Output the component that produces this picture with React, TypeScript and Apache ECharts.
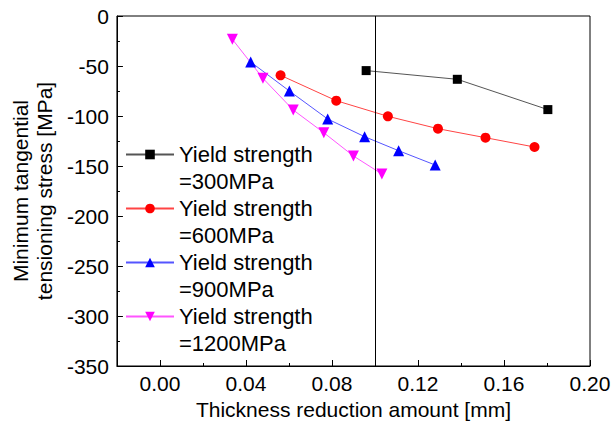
import React, { useEffect, useRef } from "react";
import * as echarts from "echarts";

const seriesNames = [
  "Yield strength\n=300MPa",
  "Yield strength\n=600MPa",
  "Yield strength\n=900MPa",
  "Yield strength\n=1200MPa",
];
const x300 = [0.0959, 0.1383, 0.1804];
const y300 = [-54.6, -63.3, -93.6];
const x600 = [0.0561, 0.082, 0.106, 0.1293, 0.1514, 0.1742];
const y600 = [-59.3, -84.7, -100.3, -112.7, -121.7, -131];
const x900 = [0.0422, 0.0602, 0.078, 0.0952, 0.111, 0.128];
const y900 = [-46, -75, -103, -120.7, -134.7, -149];
const x1200 = [0.0337, 0.0479, 0.062, 0.0762, 0.09, 0.1032];
const y1200 = [-23.3, -62.3, -94, -116.7, -140, -158];
const referenceX = [0.101];
const xMajorTicks = [0, 0.04, 0.08, 0.12, 0.16, 0.2];
const xMinorTicks = [0.02, 0.06, 0.1, 0.14, 0.18];

const FONT = "'Liberation Sans', Arial, sans-serif";

function pairs(xs: number[], ys: number[]) {
  return xs.map((x, i) => [x, ys[i]]);
}

export default function App() {
  const ref = useRef<HTMLDivElement>(null);
  useEffect(() => {
    if (!ref.current) return;
    const chart = echarts.init(ref.current, null, { renderer: "svg" });
    const symbolColors = ["#000000", "#ff0000", "#0000ff", "#ff00ff"];
    const lineColors = ["#555555", "#ff4444", "#5555ff", "#ff55ff"];
    const symbols = ["rect", "circle", "triangle", "triangle"];
    const sizes = [9, 10, 11, 11];
    const rotations = [0, 0, 0, 180];
    const datas = [
      pairs(x300, y300),
      pairs(x600, y600),
      pairs(x900, y900),
      pairs(x1200, y1200),
    ];
    const series: any[] = datas.map((d, i) => ({
      name: seriesNames[i],
      type: "line",
      data: d,
      symbol: symbols[i],
      symbolSize: sizes[i],
      symbolRotate: rotations[i],
      showAllSymbol: true,
      itemStyle: { color: symbolColors[i] },
      lineStyle: { color: lineColors[i], width: 1 },
      emphasis: { disabled: true },
      z: 3,
    }));
    series[0].markLine = {
      silent: true,
      symbol: "none",
      label: { show: false },
      lineStyle: { color: "#000", width: 1, type: "solid" },
      data: referenceX.map((v) => ({ xAxis: v })),
    };
    chart.setOption({
      animation: false,
      textStyle: { fontFamily: FONT },
      grid: {
        left: 113,
        right: 25,
        top: 16,
        bottom: 62,
        show: true,
        borderColor: "#000",
        borderWidth: 1,
      },
      legend: {
        orient: "vertical",
        left: 120,
        top: 109,
        itemWidth: 48,
        itemHeight: 12,
        itemGap: -27,
        selectedMode: false,
        data: seriesNames,
        formatter: (name: string) => "\n" + name,
        textStyle: {
          fontSize: 22,
          lineHeight: 27,
          color: "#000",
          fontFamily: FONT,
        },
      },
      xAxis: [
        {
          type: "value",
          min: -0.02,
          max: 0.2,
          position: "bottom",
          name: "Thickness reduction amount [mm]",
          nameLocation: "middle",
          nameGap: 33,
          nameTextStyle: { fontSize: 21, color: "#000", fontFamily: FONT },
          axisLine: { onZero: false, lineStyle: { color: "#000", width: 1 } },
          axisTick: {
            inside: true,
            length: 6,
            customValues: xMajorTicks,
            lineStyle: { color: "#000" },
          },
          axisLabel: {
            customValues: xMajorTicks,
            fontSize: 21,
            color: "#000",
            margin: 7,
            formatter: (v: number) => v.toFixed(2),
          },
          splitLine: { show: false },
        },
        {
          type: "value",
          min: -0.02,
          max: 0.2,
          position: "bottom",
          axisLine: { show: false, onZero: false },
          axisTick: {
            inside: true,
            length: 3,
            customValues: xMinorTicks,
            lineStyle: { color: "#000" },
          },
          axisLabel: { show: false },
          splitLine: { show: false },
        },
      ],
      yAxis: {
        type: "value",
        min: -350,
        max: 0,
        interval: 50,
        name: "Minimum tangential\ntensioning stress [MPa]",
        nameLocation: "middle",
        nameGap: 51,
        nameRotate: 90,
        nameTextStyle: {
          fontSize: 21,
          lineHeight: 24,
          color: "#000",
          fontFamily: FONT,
        },
        axisLine: { onZero: false, lineStyle: { color: "#000", width: 1 } },
        axisTick: { inside: true, length: 6, lineStyle: { color: "#000" } },
        minorTick: {
          show: true,
          splitNumber: 2,
          length: 3,
          lineStyle: { color: "#000" },
        },
        axisLabel: { fontSize: 21, color: "#000", margin: 8 },
        splitLine: { show: false },
        minorSplitLine: { show: false },
      },
      series,
    });
    return () => chart.dispose();
  }, []);
  return (
    <div
      ref={ref}
      style={{ position: "fixed", left: 0, top: 0, width: 615, height: 428, background: "#fff" }}
    />
  );
}
